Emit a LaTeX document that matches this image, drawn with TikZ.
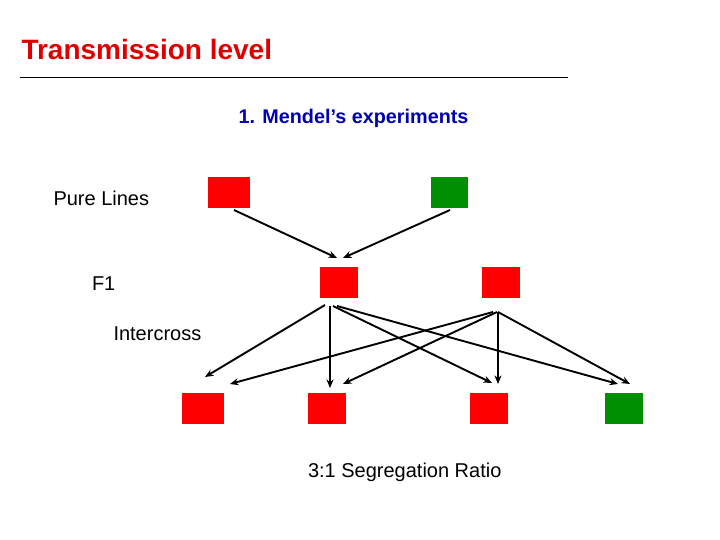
\documentclass[tikz,border=0pt]{standalone}
\usepackage{fontspec}
\setmainfont{Liberation Sans}
\usetikzlibrary{arrows.meta, positioning}
\definecolor{titlered}{RGB}{222,0,0}
\definecolor{textblue}{RGB}{0,0,178}
\definecolor{leafgreen}{RGB}{0,143,0}

\begin{document}
\begin{tikzpicture}[x=1pt,y=-1pt,>={Stealth[length=8.5pt,width=7pt]},
      every node/.style={inner sep=0pt,outer sep=0pt},
      plant/.style={minimum width=38pt,minimum height=31pt},
      red plant/.style={plant,fill=red},
      green plant/.style={plant,fill=leafgreen},
      side text/.style={anchor=base west,font=\fontsize{20}{24}\selectfont},
      cross/.style={->,line width=1.9pt}]
      \useasboundingbox (0,0) rectangle (720,540);
      \node[anchor=base west,text=titlered,font=\fontsize{28}{32}\selectfont\bfseries] (title) at (21.5,60) {Transmission level};
      \coordinate (rule_l) at (20,77.5);
      \coordinate (rule_r) at (568,77.5);
      \draw[line width=1pt] (rule_l) -- (rule_r);
      \node[anchor=base west,text=textblue,font=\fontsize{19.8}{24}\selectfont\bfseries] (exp) at (238.5,124) {1. Mendel’s experiments};
      % generations
      \node[side text] (pure) at (53.5,206) {Pure Lines};
      \node[side text] (gen) at (92,290) {F1};
      \node[side text] (inter) at (113.5,340) {Intercross};
      \node[side text] (ratio) at (308,477) {3:1 Segregation Ratio};
      \node[red plant,minimum width=42pt]   (p_1) at (229,192.5) {};
      \node[green plant,minimum width=37pt] (p_2) at (449.5,192.5) {};
      \node[red plant]   (f_1) at (339,282.5) {};
      \node[red plant]   (f_2) at (501,282.5) {};
      \node[red plant,minimum width=42pt] (c_1) at (203,408.5) {};
      \node[red plant]   (c_2) at (327,408.5) {};
      \node[red plant]   (c_3) at (489,408.5) {};
      \node[green plant] (c_4) at (624,408.5) {};
      % parents to F1
      \path[cross] ([xshift=5pt,yshift=-2pt]p_1.south) edge ([xshift=-2pt,yshift=9pt]f_1.north)
                   ([xshift=0.5pt,yshift=-2pt]p_2.south) edge ([xshift=4pt,yshift=9pt]f_1.north);
      % F1 to offspring
      \path[cross] ([xshift=-14pt,yshift=-7pt]f_1.south) edge ([xshift=2pt,yshift=16pt]c_1.north)
                   ([xshift=-9pt,yshift=-8pt]f_1.south) edge ([xshift=3pt,yshift=5pt]c_2.north)
                   ([xshift=-6pt,yshift=-8pt]f_1.south) edge ([xshift=3pt,yshift=10pt]c_3.north)
                   ([xshift=-2pt,yshift=-8pt]f_1.south) edge ([xshift=-6pt,yshift=9pt]c_4.north);
      \path[cross] ([xshift=-8pt,yshift=-14pt]f_2.south) edge ([xshift=27pt,yshift=9pt]c_1.north)
                   ([xshift=-4pt,yshift=-14pt]f_2.south) edge ([xshift=16pt,yshift=9pt]c_2.north)
                   ([xshift=-3pt,yshift=-14pt]f_2.south) edge ([xshift=9pt,yshift=9pt]c_3.north)
                   ([xshift=-3pt,yshift=-14pt]f_2.south) edge ([xshift=6pt,yshift=9pt]c_4.north);
    \end{tikzpicture}
\end{document}
